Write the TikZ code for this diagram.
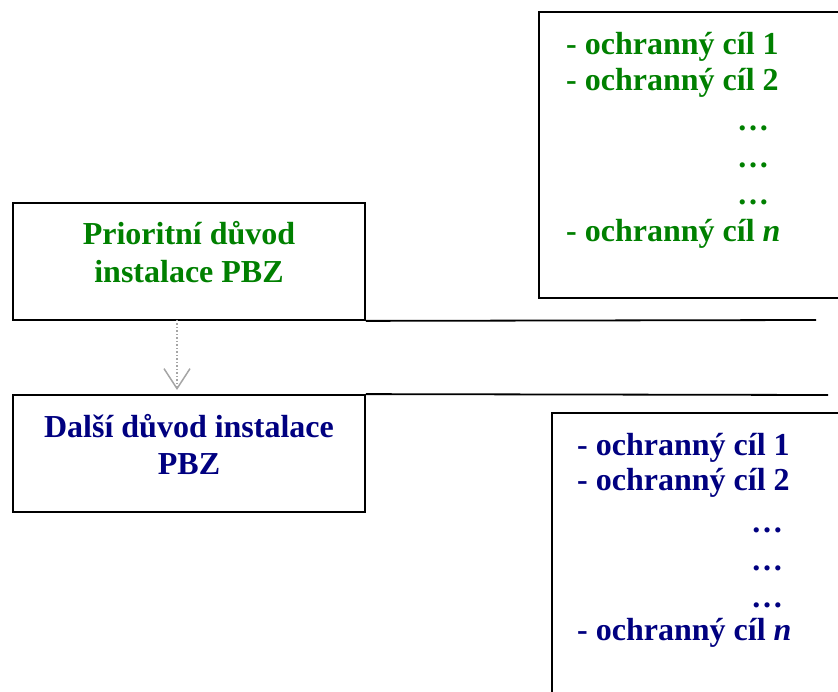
\documentclass[tikz,border=0pt]{standalone}
\usepackage{fontspec}
\setmainfont{Liberation Serif}
\usetikzlibrary{arrows.meta}
\definecolor{tgreen}{RGB}{0,128,0}
\definecolor{tnavy}{RGB}{0,0,128}
\definecolor{agray}{RGB}{165,165,165}
\tikzset{
  boxnode/.style={draw=black, line width=1.8pt, inner sep=0pt},
  rule/.style={draw=black, line width=1.8pt},
  txt/.style={font=\fontsize{32}{37}\selectfont\bfseries, inner sep=0pt, anchor=base},
  ltxt/.style={txt, anchor=base west},
  gtxt/.style={text=tgreen},
  btxt/.style={text=tnavy},
}
\begin{document}
\begin{tikzpicture}[x=1pt,y=-1pt]
\useasboundingbox (0,0) rectangle (838,692);
\clip (0,0) rectangle (838,692);
% left boxes
\node[boxnode, minimum width=352pt, minimum height=117pt] (b1) at (189,261.5) {};
\node[boxnode, minimum width=352pt, minimum height=117pt] (b2) at (189,453.5) {};
% right boxes (extend beyond the page)
\node[boxnode, minimum width=321pt, minimum height=286pt] (b3) at (699.5,155) {};
\node[boxnode, minimum width=308pt, minimum height=307pt] (b4) at (706,566.5) {};
% horizontal rules
\coordinate (r1) at (816,320);
\coordinate (r2) at (828,395);
\draw[rule] (b1.south east) -- (r1);
\draw[rule] (b2.north east) -- (r2);
% arrow
\coordinate (a1) at (177,320);
\coordinate (a2) at (177,390);
\draw[agray, line width=1.5pt, dotted, -{Straight Barb[length=20pt,width=26pt,line width=1.5pt]}] (a1) -- (a2);
% left box texts
\node[txt, gtxt] (t1a) at (189,245) {Prioritní důvod};
\node[txt, gtxt] (t1b) at (189,283) {instalace PBZ};
\node[txt, btxt] (t2a) at (189,438) {Další důvod instalace};
\node[txt, btxt] (t2b) at (189,474) {PBZ};
% right top list
\node[ltxt, gtxt] (g1) at (566,55) {- ochranný cíl 1};
\node[ltxt, gtxt] (g2) at (566,91) {- ochranný cíl 2};
\node[ltxt, gtxt] (g3) at (737,131) {…};
\node[ltxt, gtxt] (g4) at (737,168) {…};
\node[ltxt, gtxt] (g5) at (737,205) {…};
\node[ltxt, gtxt] (g6) at (566,242) {- ochranný cíl \textit{n}};
% right bottom list
\node[ltxt, btxt] (n1) at (577,455) {- ochranný cíl 1};
\node[ltxt, btxt] (n2) at (577,490) {- ochranný cíl 2};
\node[ltxt, btxt] (n3) at (751,532) {…};
\node[ltxt, btxt] (n4) at (751,570) {…};
\node[ltxt, btxt] (n5) at (751,607) {…};
\node[ltxt, btxt] (n6) at (577,640) {- ochranný cíl \textit{n}};
\end{tikzpicture}
\end{document}
